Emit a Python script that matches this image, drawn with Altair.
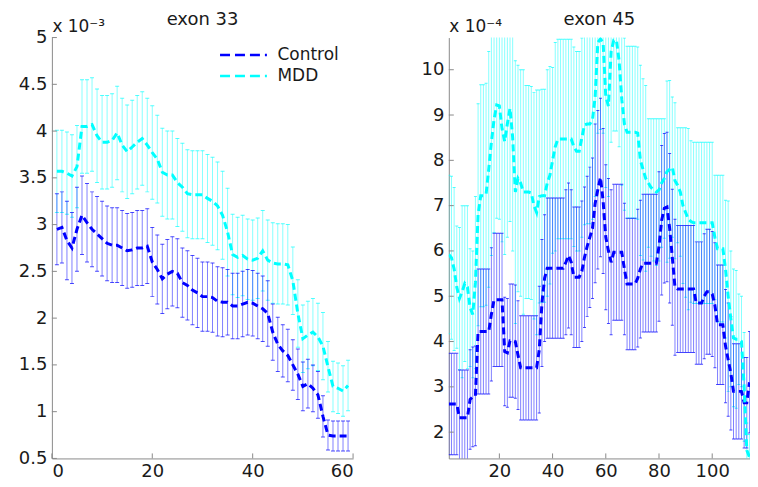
import altair as alt
import pandas as pd

# ---------------- exon 33 (values in units of 1e-3) ----------------
x33 = list(range(1, 60))
ctl33 = [2.95, 2.97, 2.83, 2.75, 2.95, 3.10, 3.02, 2.95, 2.90, 2.85,
         2.80, 2.78, 2.78, 2.75, 2.72, 2.73, 2.75, 2.75, 2.77, 2.60,
         2.52, 2.42, 2.47, 2.50, 2.48, 2.38, 2.35, 2.30, 2.27, 2.23,
         2.23, 2.22, 2.18, 2.17, 2.17, 2.13, 2.13, 2.15, 2.17, 2.16,
         2.13, 2.10, 2.05, 1.85, 1.72, 1.65, 1.60, 1.50, 1.40, 1.27,
         1.30, 1.25, 1.18, 0.95, 0.75, 0.74, 0.74, 0.74, 0.74]
ctl33_err = [0.38, 0.38, 0.42, 0.38, 0.45, 0.42, 0.42, 0.40, 0.40, 0.40,
             0.40, 0.40, 0.40, 0.40, 0.40, 0.40, 0.40, 0.40, 0.40, 0.37,
             0.37, 0.37, 0.37, 0.37, 0.37, 0.37, 0.37, 0.37, 0.37, 0.37,
             0.37, 0.37, 0.37, 0.37, 0.35, 0.35, 0.35, 0.35, 0.35, 0.35,
             0.35, 0.35, 0.35, 0.30, 0.29, 0.28, 0.28, 0.27, 0.27, 0.26,
             0.26, 0.25, 0.25, 0.22, 0.16, 0.16, 0.16, 0.16, 0.16]
mdd33 = [3.57, 3.57, 3.55, 3.52, 3.62, 4.05, 4.05, 4.07, 3.95, 3.88,
         3.88, 3.90, 3.98, 3.85, 3.78, 3.83, 3.88, 3.92, 3.85, 3.77,
         3.70, 3.56, 3.53, 3.53, 3.45, 3.40, 3.33, 3.32, 3.32, 3.32,
         3.28, 3.25, 3.20, 3.10, 2.92, 2.68, 2.65, 2.67, 2.63, 2.62,
         2.64, 2.72, 2.62, 2.59, 2.58, 2.58, 2.57, 2.40, 2.05, 1.78,
         1.82, 1.85, 1.80, 1.70, 1.48, 1.27, 1.25, 1.22, 1.28]
mdd33_err = [0.44, 0.44, 0.44, 0.44, 0.44, 0.50, 0.50, 0.50, 0.50, 0.50,
             0.50, 0.50, 0.50, 0.50, 0.50, 0.50, 0.50, 0.50, 0.50, 0.50,
             0.47, 0.47, 0.47, 0.47, 0.47, 0.47, 0.47, 0.47, 0.47, 0.47,
             0.47, 0.47, 0.47, 0.47, 0.47, 0.43, 0.43, 0.43, 0.43, 0.43,
             0.43, 0.43, 0.43, 0.43, 0.43, 0.43, 0.43, 0.36, 0.36, 0.36,
             0.36, 0.36, 0.36, 0.36, 0.27, 0.27, 0.27, 0.27, 0.27]

# ---------------- exon 45 (values in units of 1e-4) ----------------
x45 = list(range(1, 115))
ctl45 = [2.62, 2.62, 2.62, 2.62, 2.32, 2.32, 2.32, 2.32, 2.72, 2.78,
         2.80, 4.22, 4.22, 4.22, 4.22, 4.22, 4.60, 4.92, 4.92, 4.92,
         4.92, 3.78, 3.75, 4.02, 4.02, 4.00, 3.70, 3.42, 3.42, 3.42,
         3.42, 3.42, 3.42, 3.42, 3.82, 4.85, 5.40, 5.62, 5.62, 5.62,
         5.62, 5.62, 5.62, 5.62, 5.75, 5.90, 5.75, 5.42, 5.42, 5.42,
         5.55, 5.86, 6.10, 6.30, 6.50, 7.05, 7.35, 7.62, 7.10, 6.30,
         6.00, 5.75, 5.97, 5.97, 5.97, 5.97, 5.60, 5.27, 5.27, 5.27,
         5.27, 5.40, 5.60, 5.73, 5.73, 5.73, 5.73, 5.73, 5.73, 6.10,
         6.68, 6.94, 6.97, 6.50, 5.86, 5.20, 5.16, 5.16, 5.16, 5.16,
         5.16, 5.16, 5.16, 4.85, 4.85, 4.85, 5.00, 5.10, 5.10, 5.05,
         4.80, 4.37, 4.37, 4.37, 3.90, 3.60, 3.30, 2.90, 2.90, 2.90,
         2.90, 2.65, 2.65, 3.10]
ctl45_err = [1.12, 1.12, 1.12, 1.12, 1.05, 1.05, 1.05, 1.05, 1.10, 1.10,
             1.10, 1.38, 1.38, 1.38, 1.38, 1.38, 1.47, 1.47, 1.47, 1.47,
             1.47, 1.20, 1.20, 1.25, 1.25, 1.25, 1.20, 1.15, 1.15, 1.15,
             1.15, 1.15, 1.15, 1.15, 1.40, 1.40, 1.40, 1.55, 1.55, 1.55,
             1.55, 1.55, 1.55, 1.55, 1.60, 1.60, 1.60, 1.55, 1.55, 1.55,
             1.55, 1.55, 1.55, 1.55, 1.55, 1.75, 1.75, 1.75, 1.60, 1.60,
             1.60, 1.60, 1.50, 1.50, 1.50, 1.50, 1.45, 1.45, 1.45, 1.45,
             1.45, 1.52, 1.52, 1.52, 1.52, 1.52, 1.52, 1.52, 1.52, 1.65,
             1.65, 1.65, 1.65, 1.65, 1.50, 1.50, 1.40, 1.40, 1.40, 1.40,
             1.40, 1.40, 1.40, 1.35, 1.35, 1.35, 1.38, 1.38, 1.38, 1.38,
             1.38, 1.32, 1.32, 1.32, 1.25, 1.25, 1.25, 1.05, 1.05, 1.05,
             1.05, 1.00, 1.00, 1.12]
mdd45 = [5.92, 5.85, 5.60, 5.20, 4.95, 5.10, 5.28, 5.20, 4.75, 4.60,
         5.30, 6.80, 7.22, 7.22, 7.25, 7.80, 8.40, 8.90, 9.22, 9.20,
         8.70, 8.42, 8.80, 9.15, 8.50, 7.30, 7.60, 7.50, 7.30, 7.30,
         7.30, 7.28, 7.00, 6.85, 7.20, 7.22, 7.22, 7.50, 7.67, 8.00,
         8.30, 8.47, 8.47, 8.47, 8.47, 8.47, 8.47, 8.30, 8.20, 8.20,
         8.50, 8.78, 8.80, 8.80, 8.90, 9.40, 10.60, 10.68, 10.60, 9.40,
         9.20, 10.40, 10.65, 10.65, 10.20, 9.35, 8.80, 8.62, 8.62, 8.62,
         8.62, 8.60, 8.00, 7.80, 7.60, 7.50, 7.40, 7.35, 7.30, 7.35,
         7.50, 7.60, 7.75, 7.80, 7.85, 7.55, 7.45, 7.30, 7.00, 6.85,
         6.70, 6.65, 6.62, 6.62, 6.62, 6.62, 6.62, 6.62, 6.62, 6.62,
         6.30, 6.05, 6.05, 6.05, 5.60, 5.00, 4.50, 4.08, 4.05, 4.05,
         4.00, 3.00, 1.60, 1.45]
mdd45_err = [1.75, 1.80, 1.80, 1.35, 1.57, 1.90, 1.72, 1.80, 1.30, 1.40,
             1.90, 2.45, 2.45, 2.45, 2.45, 2.60, 2.50, 2.50, 2.50, 2.50,
             2.50, 2.50, 2.50, 2.50, 2.50, 2.90, 2.50, 2.50, 2.70, 2.35,
             2.35, 2.35, 2.50, 2.70, 2.35, 2.35, 2.35, 2.50, 2.40, 2.05,
             2.30, 2.20, 2.20, 2.20, 2.20, 2.20, 2.20, 2.20, 2.20, 2.20,
             2.20, 2.20, 2.20, 2.20, 2.20, 2.20, 2.00, 2.00, 2.00, 2.00,
             2.00, 2.00, 2.00, 2.00, 1.90, 1.90, 1.90, 1.90, 1.90, 1.90,
             1.90, 1.90, 2.10, 2.00, 2.05, 1.42, 1.52, 1.57, 1.62, 1.57,
             1.42, 1.32, 2.00, 1.96, 1.55, 1.72, 1.27, 1.42, 1.72, 1.87,
             2.00, 1.78, 1.78, 1.78, 1.78, 1.78, 1.78, 1.78, 1.78, 1.78,
             1.37, 1.62, 1.62, 1.62, 1.52, 2.10, 1.50, 1.52, 1.52, 1.00,
             1.00, 1.20, 0.60, 0.50]

groups = ["Control", "MDD"]
colors = ["#0000ff", "#00ffff"]

FONT = "DejaVu Sans"
TXT = "#1a1a1a"
AX = "#8a8a8a"


def frame(xs, means, errs, name):
    return pd.DataFrame({
        "x": xs, "m": means,
        "lo": [a - e for a, e in zip(means, errs)],
        "hi": [a + e for a, e in zip(means, errs)],
        "group": name,
    })


def panel(xs, c, ce, m, me, xdom, ydom, xticks, yticks, title, expo,
          cap, legend, yfmt):
    dc = frame(xs, c, ce, "Control")
    dm = frame(xs, m, me, "MDD")
    W, H = 302, 422
    xs_ = alt.Scale(domain=xdom, nice=False, zero=False)
    ys_ = alt.Scale(domain=ydom, nice=False, zero=False)
    xax = alt.Axis(values=xticks, format="d", ticks=False, grid=False,
                   labelPadding=4, title=None)
    yax = alt.Axis(values=yticks, format=yfmt, ticks=False, grid=False,
                   labelPadding=5, title=expo, titleAngle=0, titleAlign="left",
                   titleBaseline="alphabetic", titleX=0, titleY=-6,
                   titleFontSize=17, titleFontWeight="normal", titleFont=FONT,
                   titleColor=TXT)

    def bars(d, col, op):
        base = alt.Chart(d)
        r = base.mark_rule(color=col, opacity=op, strokeWidth=1, clip=True).encode(
            x=alt.X("x:Q", scale=xs_, axis=xax),
            y=alt.Y("lo:Q", scale=ys_, axis=yax),
            y2="hi:Q")
        t1 = base.mark_tick(color=col, opacity=min(1, op + 0.2), orient="horizontal",
                            size=cap, thickness=1, clip=True).encode(
            x="x:Q", y="hi:Q")
        t2 = base.mark_tick(color=col, opacity=min(1, op + 0.2), orient="horizontal",
                            size=cap, thickness=1, clip=True).encode(
            x="x:Q", y="lo:Q")
        return [r, t1, t2]

    both = pd.concat([dc, dm])
    lines = alt.Chart(both).mark_line(strokeWidth=3, strokeDash=[7, 4],
                                      clip=True).encode(
        x="x:Q", y="m:Q",
        color=alt.Color("group:N", scale=alt.Scale(domain=groups, range=colors),
                        legend=legend),
        order=alt.Order("x:Q"))

    ytk = alt.Chart(pd.DataFrame({"v": yticks})).mark_rule(color=AX).encode(
        y="v:Q", x=alt.value(0), x2=alt.value(5))
    xtk = alt.Chart(pd.DataFrame({"v": xticks})).mark_rule(color=AX).encode(
        x="v:Q", y=alt.value(H), y2=alt.value(H - 5))

    layers = bars(dm, "#00ffff", 0.48) + bars(dc, "#0000ff", 0.5) + [lines, ytk, xtk]
    return alt.layer(*layers).properties(
        width=W, height=H,
        title=alt.TitleParams(title, fontSize=18, fontWeight="normal", font=FONT,
                              color=TXT, offset=-11, frame="group"))


legend33 = alt.Legend(orient="none", legendX=183.6, legendY=9, title=None,
                      symbolType="M-4,0H4", symbolSize=138, symbolDash=[10, 5],
                      symbolStrokeWidth=2.6, labelFontSize=17, labelFont=FONT,
                      labelColor=TXT, labelOffset=25.6, rowPadding=3, padding=0)

left = panel(x33, ctl33, ctl33_err, mdd33, mdd33_err, [0, 60], [0.5, 5],
             [0, 20, 40, 60], [0.5, 1, 1.5, 2, 2.5, 3, 3.5, 4, 4.5, 5],
             "exon 33", "x 10⁻³", 4, legend33, "~g")
right = panel(x45, ctl45, ctl45_err, mdd45, mdd45_err, [1, 114.2], [1.42, 10.71],
              [20, 40, 60, 80, 100], [2, 3, 4, 5, 6, 7, 8, 9, 10],
              "exon 45", "x 10⁻⁴", 3, None, "d")

chart = alt.hconcat(left, right, spacing=96, bounds="flush").properties(
    padding={"left": 10, "top": 2, "right": 0, "bottom": 0}
).configure_view(stroke=None).configure_axis(
    domainColor=AX, domainWidth=1, labelFont=FONT, labelFontSize=18,
    labelColor=TXT
).resolve_scale(color="independent")

chart.save("out.html", embed_options={"renderer": "svg", "actions": False})
